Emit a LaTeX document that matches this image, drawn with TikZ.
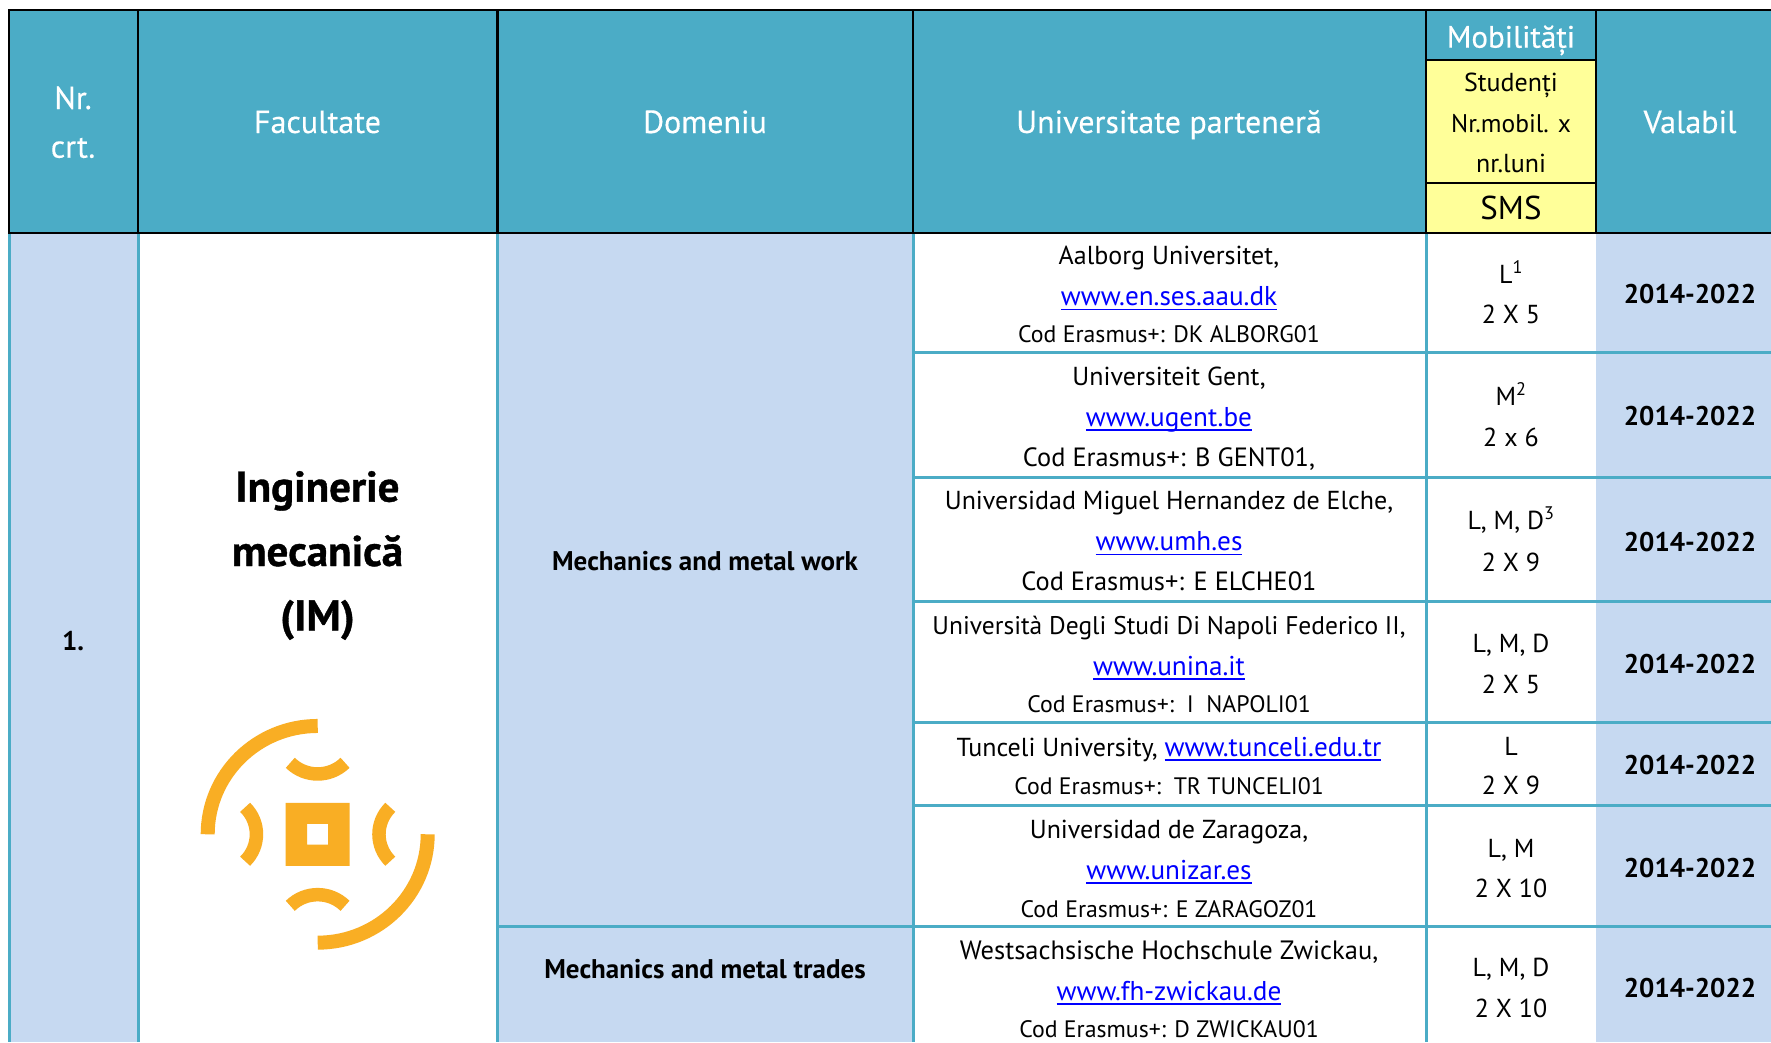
\documentclass[tikz,border=0pt]{standalone}
\usepackage{fontspec}
\setmainfont{PT Sans}
\definecolor{teal}{HTML}{4BACC6}
\definecolor{lblue}{HTML}{C6D9F1}
\definecolor{lyellow}{HTML}{FFFF99}
\definecolor{iconor}{HTML}{F9AE24}
\definecolor{linkb}{HTML}{0000FF}
\newlength\ulen
\newcommand\sz[1]{\fontsize{#1}{#1}\selectfont}
\newcommand\lnk[1]{{\sz{27.2}\settowidth\ulen{#1}\color{linkb}\makebox[0pt][l]{\rule[-4.5pt]{\ulen}{1.3pt}}#1}}
\tikzset{
  txt/.style={anchor=base,inner sep=0pt,yshift=-1pt,font=\sz{26}},
  cod/.style={anchor=base,inner sep=0pt,yshift=-1pt,font=\sz{23.8}},
  codb/.style={anchor=base,inner sep=0pt,yshift=-1pt,font=\sz{26.4}},
  head/.style={anchor=base,inner sep=0pt,text=white,font=\sz{32}\addfontfeature{FakeBold=0.3}},
  boldt/.style={anchor=base,inner sep=0pt,yshift=-1pt,font=\sz{27}\bfseries},
  title/.style={anchor=base,inner sep=0pt,font=\sz{43}\bfseries\addfontfeature{FakeBold=0.8}},
  gridt/.style={teal,line width=3pt},
  gridk/.style={black,line width=2.2pt},
  ic/.style={iconor,line width=14pt},
  icb/.style={iconor,line width=13.5pt}
}
\begin{document}
\begin{tikzpicture}[x=1pt,y=-1pt]
\useasboundingbox (0,0) rectangle (1771,1042);
\fill[white] (0,0) rectangle (1771,1042);
% fills
\fill[teal] (9,10) rectangle (1771,233);
\fill[lyellow] (1426,60) rectangle (1596,233);
\fill[lblue] (9,233) rectangle (138,1042);
\fill[lblue] (497.5,233) rectangle (913,1042);
\fill[lblue] (1596,233) rectangle (1771,1042);
% teal grid
\foreach \x in {9.5,138,497.5,913,1426} \draw[gridt] (\x,233) -- (\x,1042);
\foreach \y in {352.5,477,601,722,805} \draw[gridt] (913,\y) -- (1771,\y);
\draw[gridt] (497.5,926.5) -- (1771,926.5);
% black grid
\draw[gridk] (8,10) -- (1771,10);
\draw[gridk] (8,233) -- (1771,233);
\foreach \x in {9,138,497.5,913,1426,1596} \draw[gridk] (\x,10) -- (\x,233);
\draw[gridk] (1426,60) -- (1596,60);
\draw[gridk] (1426,183) -- (1596,183);
% header
\node[head] (hnr) at (73,109) {Nr.};
\node[head] (hcrt) at (73,157.7) {crt.};
\node[head] (hfac) at (317.5,133) {Facultate};
\node[head] (hdom) at (705,133) {Domeniu};
\node[head] (huni) at (1169,133) {Universitate parteneră};
\node[head,font=\sz{31}\addfontfeature{FakeBold=0.3}] (hmob) at (1511,47.7) {Mobilități};
\node[head] (hval) at (1690,133) {Valabil};
\node[txt] (hstud) at (1511,90.7) {Studenți};
\node[txt,font=\sz{25.5}] (hnrm) at (1511,131.7) {Nr.mobil. x};
\node[txt] (hnrl) at (1511,171.7) {nr.luni};
\node[head,text=black,font=\sz{33}] (hsms) at (1511,219.3) {SMS};
% left
\node[boldt] (nr1) at (73,649) {1.};
\node[title] (t1) at (317.5,501.6) {Inginerie};
\node[title] (t2) at (317.5,566) {mecanică};
\node[title] (t3) at (317.5,630.5) {(IM)};
\node[boldt] (d1) at (705,569) {Mechanics and metal work};
\node[boldt] (d2) at (705,977) {Mechanics and metal trades};
% universities
\node[txt] (u1a) at (1169,263) {Aalborg Universitet,};
\node[txt] (u1b) at (1169,304.5) {\lnk{www.en.ses.aau.dk}};
\node[cod] (u1c) at (1169,341.7) {Cod Erasmus+: DK ALBORG01};
\node[txt] (u2a) at (1169,384) {Universiteit Gent,};
\node[txt] (u2b) at (1169,425) {\lnk{www.ugent.be}};
\node[codb] (u2c) at (1169,465.7) {Cod Erasmus+: B GENT01,};
\node[txt] (u3a) at (1169,508) {Universidad Miguel Hernandez de Elche,};
\node[txt] (u3b) at (1169,549.5) {\lnk{www.umh.es}};
\node[codb] (u3c) at (1169,589) {Cod Erasmus+: E ELCHE01};
\node[txt,font=\sz{25.5}] (u4a) at (1169,633) {Università Degli Studi Di Napoli Federico II,};
\node[txt] (u4b) at (1169,674) {\lnk{www.unina.it}};
\node[cod] (u4c) at (1169,711) {Cod Erasmus+:~~I~~NAPOLI01};
\node[txt] (u5a) at (1169,755) {Tunceli University, \lnk{www.tunceli.edu.tr}};
\node[cod] (u5c) at (1169,793.5) {Cod Erasmus+:~~TR TUNCELI01};
\node[txt] (u6a) at (1169,837.5) {Universidad de Zaragoza,};
\node[txt] (u6b) at (1169,878) {\lnk{www.unizar.es}};
\node[cod] (u6c) at (1169,916.5) {Cod Erasmus+: E ZARAGOZ01};
\node[txt,font=\sz{26.5}] (u7a) at (1169,958) {Westsachsische Hochschule Zwickau,};
\node[txt] (u7b) at (1169,999) {\lnk{www.fh-zwickau.de}};
\node[cod] (u7c) at (1169,1036) {Cod Erasmus+: D ZWICKAU01};
% mobility
\node[txt] (m1a) at (1511,282) {L\textsuperscript{1}};
\node[txt] (m1b) at (1511,322.5) {2 X 5};
\node[txt] (m2a) at (1511,404) {M\textsuperscript{2}};
\node[txt] (m2b) at (1511,445.6) {2 x 6};
\node[txt] (m3a) at (1511,528) {L, M, D\textsuperscript{3}};
\node[txt] (m3b) at (1511,570) {2 X 9};
\node[txt] (m4a) at (1511,651) {L, M, D};
\node[txt] (m4b) at (1511,692) {2 X 5};
\node[txt] (m5a) at (1511,754) {L};
\node[txt] (m5b) at (1511,793.5) {2 X 9};
\node[txt] (m6a) at (1511,856) {L, M};
\node[txt] (m6b) at (1511,896) {2 X 10};
\node[txt] (m7a) at (1511,975) {L, M, D};
\node[txt] (m7b) at (1511,1016) {2 X 10};
% validity
\node[boldt] (v1) at (1690,302) {2014-2022};
\node[boldt] (v2) at (1690,424) {2014-2022};
\node[boldt] (v3) at (1690,550) {2014-2022};
\node[boldt] (v4) at (1690,672) {2014-2022};
\node[boldt] (v5) at (1690,773) {2014-2022};
\node[boldt] (v6) at (1690,876) {2014-2022};
\node[boldt] (v7) at (1690,996) {2014-2022};
% icon
\begin{scope}[shift={(317.7,834.3)},x=1pt,y=0.985pt]
\fill[iconor,even odd rule] (-32,-32) rectangle (32,32) (-10.5,-10.5) rectangle (10.5,10.5);
\draw[ic] (0,110) arc[start angle=90,end angle=180,radius=110];
\draw[ic] (0,-110) arc[start angle=270,end angle=360,radius=110];
\draw[icb] (-27.4,72.6) arc[start angle=225,end angle=315,radius=38.7];
\draw[icb] (-27.4,-72.6) arc[start angle=135,end angle=45,radius=38.7];
\draw[icb] (-72.6,27.4) arc[start angle=45,end angle=-45,radius=38.7];
\draw[icb] (72.6,27.4) arc[start angle=135,end angle=225,radius=38.7];
\end{scope}
\end{tikzpicture}
\end{document}
